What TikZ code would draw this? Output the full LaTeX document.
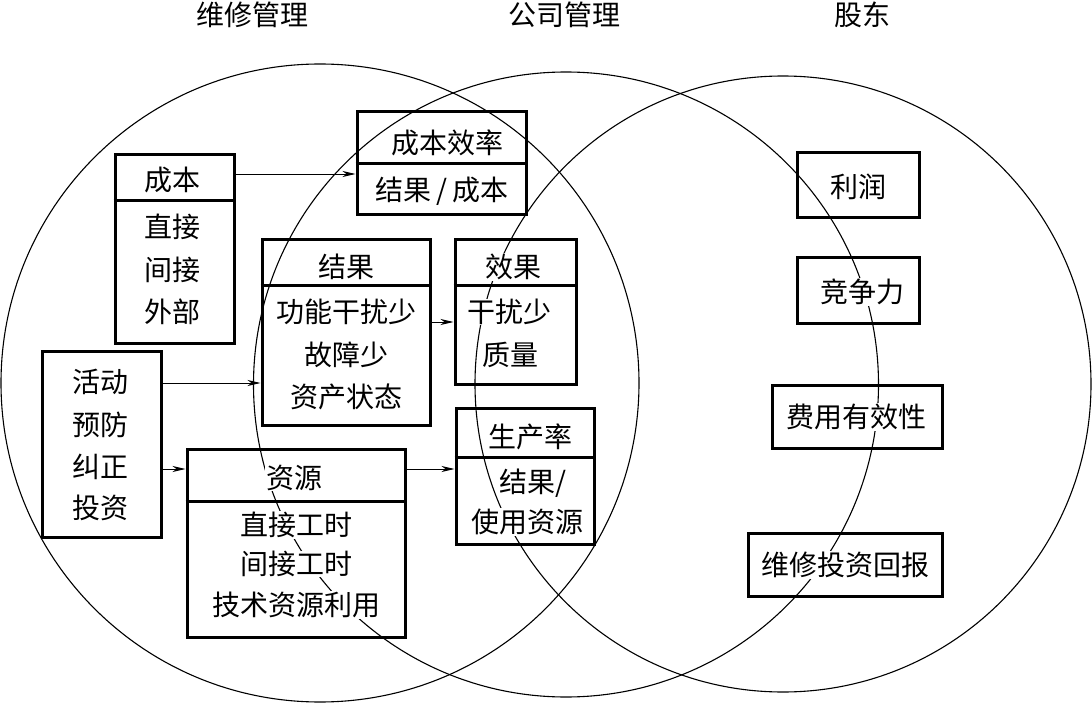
\documentclass[tikz,border=0pt]{standalone}
\usepackage{fontspec}
\newfontfamily\cjk{Noto Sans CJK SC}
\usetikzlibrary{arrows.meta}
\begin{document}
\begin{tikzpicture}[x=1pt,y=-1pt,
  box/.style={draw, line width=3pt, inner sep=0pt},
  divl/.style={line width=3pt},
  txt/.style={fill=white, inner sep=0.6pt, font=\cjk\fontsize{28}{28}\selectfont},
  ttl/.style={inner sep=0pt, font=\cjk\fontsize{28}{28}\selectfont},
  arr/.style={-{Stealth[length=13pt,width=6pt,inset=4pt]}, line width=0.9pt},
  ring/.style={line width=1.1pt}]
\useasboundingbox (0,0) rectangle (1092,703);
% titles
\node[ttl] (t1) at (252,15) {维修管理};
\node[ttl] (t2) at (564,15) {公司管理};
\node[ttl] (t3) at (862,15) {股东};
% circles
\draw[ring] (320,383) circle[radius=319pt];
\draw[ring] (566,384.5) circle[radius=312.5pt];
\draw[ring] (783,384) circle[radius=308pt];
% boxes
\node[box, minimum width=119pt, minimum height=188pt] (cost) at (174.5,249) {};
\draw[divl] (cost.west |- 0,201) -- (cost.east |- 0,201);
\node[box, minimum width=169pt, minimum height=103pt] (ce) at (441.5,163.5) {};
\draw[divl] (ce.west |- 0,164) -- (ce.east |- 0,164);
\node[box, minimum width=168pt, minimum height=185pt] (res) at (346,332.5) {};
\draw[divl] (res.west |- 0,286) -- (res.east |- 0,286);
\node[box, minimum width=121pt, minimum height=144pt] (eff) at (515.5,312) {};
\draw[divl] (eff.west |- 0,286) -- (eff.east |- 0,286);
\node[box, minimum width=119pt, minimum height=186pt] (act) at (101.5,444) {};
\node[box, minimum width=218pt, minimum height=188pt] (rsc) at (296,543) {};
\draw[divl] (rsc.west |- 0,501) -- (rsc.east |- 0,501);
\node[box, minimum width=138pt, minimum height=136pt] (prod) at (525,476) {};
\draw[divl] (prod.west |- 0,457) -- (prod.east |- 0,457);
\node[box, minimum width=122pt, minimum height=65pt] (profit) at (858,185.5) {};
\node[box, minimum width=122pt, minimum height=65pt] (comp) at (858,290.5) {};
\node[box, minimum width=170pt, minimum height=63pt] (ceff) at (857,416.5) {};
\node[box, minimum width=194pt, minimum height=63pt] (roi) at (845,564.5) {};
% arrows
\draw[arr] (cost.east |- 0,174) -- (ce.west |- 0,174);
\draw[arr] (act.east |- 0,383) -- (res.west |- 0,383);
\draw[arr] (act.east |- 0,469) -- (rsc.west |- 0,469);
\draw[arr] (res.east |- 0,322) -- (eff.west |- 0,322);
\draw[arr] (rsc.east |- 0,469) -- (prod.west |- 0,469);
% texts
\node[txt] (cost0) at (172,180) {成本};
\node[txt] (cost1) at (172,227) {直接};
\node[txt] (cost2) at (172,270) {间接};
\node[txt] (cost3) at (172,312) {外部};
\node[txt] (ce0) at (447,143) {成本效率};
\node[txt] (ce1) at (442,191) {结果\,/\,成本};
\node[txt] (res0) at (346,267) {结果};
\node[txt] (res1) at (346,312) {功能干扰少};
\node[txt] (res2) at (346,355) {故障少};
\node[txt] (res3) at (346,397) {资产状态};
\node[txt] (eff0) at (513,267) {效果};
\node[txt] (eff1) at (509,312) {干扰少};
\node[txt] (eff2) at (510,355) {质量};
\node[txt] (act1) at (100,382) {活动};
\node[txt] (act2) at (100,425) {预防};
\node[txt] (act3) at (100,467) {纠正};
\node[txt] (act4) at (100,508) {投资};
\node[txt] (rsc0) at (294,478) {资源};
\node[txt] (rsc1) at (296,525) {直接工时};
\node[txt] (rsc2) at (296,564) {间接工时};
\node[txt] (rsc3) at (296,605) {技术资源利用};
\node[txt] (prod0) at (530,437) {生产率};
\node[txt] (prod1) at (533,483) {结果/};
\node[txt] (prod2) at (527,522) {使用资源};
\node[txt] (profit0) at (858,187) {利润};
\node[txt] (comp0) at (862,292) {竞争力};
\node[txt] (ceff0) at (856,417) {费用有效性};
\node[txt] (roi0) at (845,565) {维修投资回报};
\end{tikzpicture}
\end{document}
